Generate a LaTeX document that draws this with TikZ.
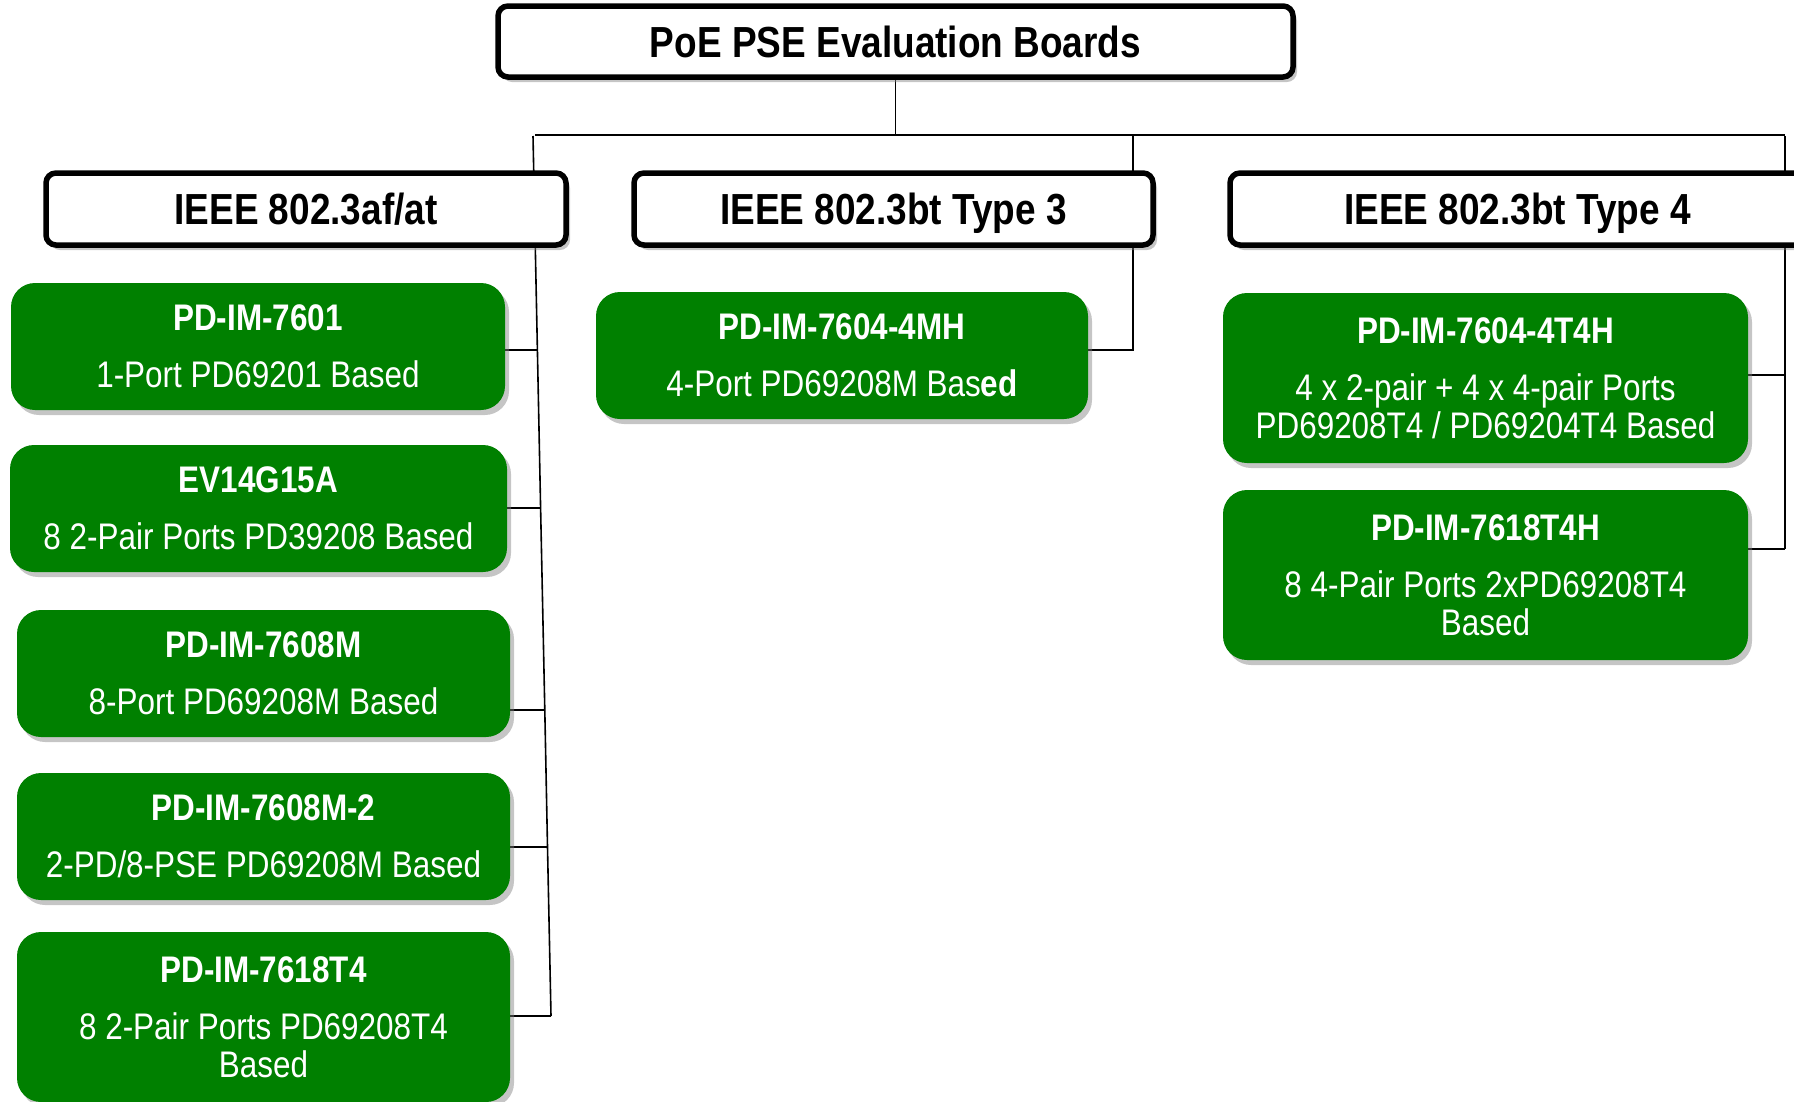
\documentclass[tikz,border=0pt]{standalone}
\usepackage{fontspec}
\setmainfont{Liberation Sans}[FakeStretch=0.85]
\usetikzlibrary{shadows}
\definecolor{pdgreen}{RGB}{0,128,0}
\pgfdeclarelayer{bg}
\pgfsetlayers{bg,main}
\tikzset{
  hdrbox/.style={draw=black, line width=5.5pt, rounded corners=10pt, fill=white,
    font=\fontsize{43.5}{50}\selectfont\bfseries, inner sep=0pt,
    text height=31pt, text depth=0pt,
    drop shadow={shadow xshift=4pt, shadow yshift=-5pt, fill=black!50, opacity=0.45}},
  greenbox/.style={fill=pdgreen, rounded corners=24pt, text=white, align=center,
    font=\fontsize{37}{38}\selectfont, inner sep=0pt,
    minimum width=494pt, minimum height=127pt,
    drop shadow={shadow xshift=4pt, shadow yshift=-5pt, fill=black!50, opacity=0.45}},
  tallbox/.style={greenbox, minimum height=170pt},
  conn/.style={draw=black, line width=1.6pt}
}
\begin{document}
\begin{tikzpicture}[x=1pt,y=-1pt]
\clip (0,0) rectangle (1794,1101);

% top box
\node[hdrbox, minimum width=795pt, minimum height=71pt] (top) at (895.5,41.5) {PoE PSE Evaluation Boards};

% headers
\node[hdrbox, minimum width=520pt, minimum height=72pt] (h1) at (306,209) {IEEE 802.3af/at};
\node[hdrbox, minimum width=519pt, minimum height=72pt] (h2) at (893.5,209) {IEEE 802.3bt Type 3};
\node[hdrbox, minimum width=575pt, minimum height=72pt] (h3) at (1517.5,209) {IEEE 802.3bt Type 4};

% left column
\node[greenbox] (g1) at (258,346.5) {{\bfseries PD-IM-7601}\\[19pt]1-Port PD69201 Based};
\node[greenbox, minimum width=497pt] (g2) at (258.5,508.5) {{\bfseries EV14G15A}\\[19pt]8 2-Pair Ports PD39208 Based};
\node[greenbox, minimum width=493pt] (g3) at (263.5,673.5) {{\bfseries PD-IM-7608M}\\[19pt]8-Port PD69208M Based};
\node[greenbox, minimum width=493pt] (g4) at (263.5,836.5) {{\bfseries PD-IM-7608M-2}\\[19pt]2-PD/8-PSE PD69208M Based};
\node[tallbox, minimum width=493pt] (g5) at (263.5,1017) {{\bfseries PD-IM-7618T4}\\[19pt]8 2-Pair Ports PD69208T4\\Based};

% middle column
\node[greenbox, minimum width=492pt] (g6) at (842,355.5) {{\bfseries PD-IM-7604-4MH}\\[19pt]4-Port PD69208M Bas{\bfseries ed}};

% right column
\node[tallbox, minimum width=525pt] (g7) at (1485.5,378) {{\bfseries PD-IM-7604-4T4H}\\[19pt]4 x 2-pair + 4 x 4-pair Ports\\PD69208T4 / PD69204T4 Based};
\node[tallbox, minimum width=525pt] (g8) at (1485.5,575) {{\bfseries PD-IM-7618T4H}\\[19pt]8 4-Pair Ports 2xPD69208T4\\Based};

% connector coordinates
\coordinate (hL) at (535,135);
\coordinate (hR) at (1785,135);
\coordinate (hC) at (893,135);
\coordinate (lt) at (533,136);
\coordinate (l1) at (537.4,350);
\coordinate (l2) at (540.6,508);
\coordinate (l3) at (544.8,710);
\coordinate (l4) at (547.5,847);
\coordinate (l5) at (551,1016);
\coordinate (mt) at (1133,136);
\coordinate (m1) at (1133,350);
\coordinate (rt) at (1785,136);
\coordinate (r1) at (1785,375);
\coordinate (r2) at (1785,549);

\begin{pgfonlayer}{bg}
\fill[white] (0,0) rectangle (1794,1101);
\draw[conn] (top.south) -- (top.south |- hC);
\draw[conn] (hL) -- (hR);
\draw[conn] (lt) -- (l1) -- (l2) -- (l3) -- (l4) -- (l5);
\draw[conn] (l1 -| g1.east) -- (l1);
\draw[conn] (l2 -| g2.east) -- (l2);
\draw[conn] (l3 -| g3.east) -- (l3);
\draw[conn] (l4 -| g4.east) -- (l4);
\draw[conn] (l5 -| g5.east) -- (l5);
\draw[conn] (mt) -- (m1) -- (m1 -| g6.east);
\draw[conn] (rt) -- (r2);
\draw[conn] (r1 -| g7.east) -- (r1);
\draw[conn] (r2 -| g8.east) -- (r2);
\end{pgfonlayer}
\end{tikzpicture}
\end{document}
